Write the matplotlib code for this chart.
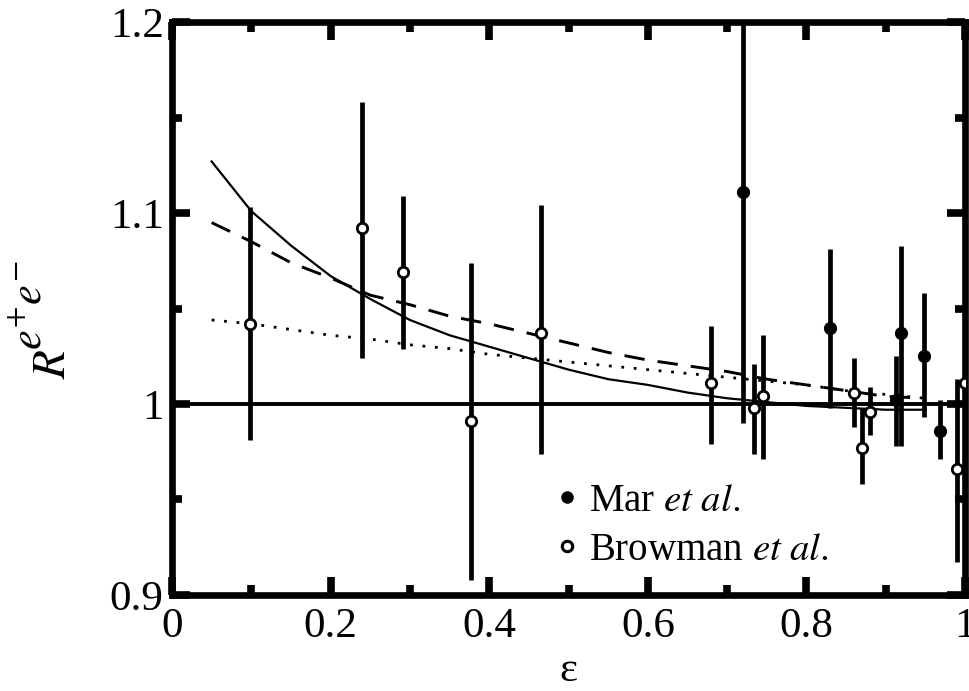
"""R^{e+e-} vs epsilon with Mar / Browman data and three model curves."""
import numpy as np
import matplotlib
matplotlib.use('Agg')
import matplotlib.pyplot as plt
from matplotlib.ticker import MultipleLocator

plt.rcParams['font.family'] = ['Liberation Serif', 'DejaVu Serif']
plt.rcParams['mathtext.fontset'] = 'stix'

# ---- data ----
mar_eps = [0.720, 0.830, 0.913, 0.919, 0.948, 0.968]
mar_R = [1.111, 1.040, 1.002, 1.037, 1.025, 0.986]
mar_lo = [0.990, 0.998, 0.978, 0.978, 0.993, 0.971]
mar_hi = [1.250, 1.081, 1.025, 1.083, 1.058, 1.002]

brow_eps = [0.098, 0.239, 0.291, 0.377, 0.465, 0.679, 0.734, 0.745,
            0.860, 0.870, 0.880, 0.990, 1.000]
brow_R = [1.042, 1.092, 1.069, 0.991, 1.037, 1.011, 0.998, 1.004,
          1.006, 0.977, 0.996, 0.966, 1.011]
brow_lo = [0.981, 1.024, 1.029, 0.908, 0.974, 0.979, 0.974, 0.971,
           0.988, 0.958, 0.984, 0.917, 0.950]
brow_hi = [1.103, 1.158, 1.109, 1.074, 1.104, 1.041, 1.021, 1.036,
           1.024, 0.998, 1.009, 1.013, 1.060]

curve_eps = [0.05, 0.10, 0.15, 0.20, 0.25, 0.30, 0.35, 0.40, 0.45, 0.50,
             0.55, 0.60, 0.65, 0.70, 0.75, 0.80, 0.85, 0.90, 0.95]
solid_R = [1.127, 1.101, 1.083, 1.067, 1.055, 1.044, 1.036, 1.030, 1.024, 1.018,
           1.013, 1.010, 1.006, 1.003, 1.001, 0.999, 0.998, 0.997, 0.997]
dashed_R = [1.095, 1.085, 1.074, 1.066, 1.057, 1.052, 1.046, 1.042, 1.037, 1.032,
            1.027, 1.023, 1.020, 1.017, 1.013, 1.010, 1.007, 1.004, 1.003]
dotted_R = [1.044, 1.042, 1.039, 1.036, 1.034, 1.031, 1.029, 1.026, 1.024, 1.022,
            1.020, 1.018, 1.016, 1.014, 1.012, 1.010, 1.007, 1.005, 1.003]

xticks = [0, 0.2, 0.4, 0.6, 0.8, 1.0]
xticklabels = ['0', '0.2', '0.4', '0.6', '0.8', '1']
yticks = [0.9, 1.0, 1.1, 1.2]
yticklabels = ['0.9', '1', '1.1', '1.2']

W, H = 969, 691
fig = plt.figure(figsize=(W / 100, H / 100), dpi=100)
ax = fig.add_axes([0.1775, 0.139, 0.8185, 0.829])

ax.axhline(1.0, color='black', lw=2.8, zorder=2)

ax.plot(curve_eps, solid_R, '-', color='black', lw=1.6, zorder=3)
ax.plot(curve_eps, dashed_R, color='black', lw=2.1, dashes=(7, 4.5), zorder=3)
ax.plot(curve_eps, dotted_R, color='black', lw=2.0, dashes=(1, 3.5), zorder=3)

# error bars (no caps)
b_lo = np.array(brow_R) - np.array(brow_lo)
b_hi = np.array(brow_hi) - np.array(brow_R)
ax.errorbar(brow_eps, brow_R, yerr=[b_lo, b_hi], fmt='o', color='black',
            ecolor='black', elinewidth=3.4, capsize=0, ms=7.5, mfc='white',
            mec='black', mew=2.0, zorder=4, label=r'Browman $\mathit{et\ al.}$')
m_lo = np.array(mar_R) - np.array(mar_lo)
m_hi = np.array(mar_hi) - np.array(mar_R)
ax.errorbar(mar_eps, mar_R, yerr=[m_lo, m_hi], fmt='o', color='black',
            ecolor='black', elinewidth=3.4, capsize=0, ms=8.5, mfc='black',
            mec='black', zorder=4, label=r'Mar $\mathit{et\ al.}$')

ax.set_xlim(0, 1)
ax.set_ylim(0.9, 1.2)
ax.set_xticks(xticks)
ax.set_xticklabels(xticklabels)
ax.set_yticks(yticks)
ax.set_yticklabels(yticklabels)
ax.xaxis.set_minor_locator(MultipleLocator(0.1))
ax.yaxis.set_minor_locator(MultipleLocator(0.05))
ax.tick_params(which='both', direction='in', top=True, right=True,
               labelsize=31, width=5.5)
ax.tick_params(axis='x', which='both', pad=9)
ax.tick_params(axis='y', which='both', pad=6)
ax.tick_params(which='major', length=13)
ax.tick_params(which='minor', length=7)
for sp in ax.spines.values():
    sp.set_linewidth(4.8)

ax.set_xlabel('ε', fontsize=31, labelpad=4)

# y label built from two pieces so the superscript can sit high and large
fig.text(54 / W, 1 - 364 / H, r'$R$', fontsize=34, rotation=90,
         ha='center', va='center')
fig.text(30 / W, 1 - 305 / H, r'$e^{+}e^{-}$', fontsize=32, rotation=90,
         ha='center', va='center')

# legend: Mar first, then Browman, markers only
handles, labels = ax.get_legend_handles_labels()
leg_h = [plt.Line2D([], [], ls='none', marker='o', ms=8, mfc='black', mec='black'),
         plt.Line2D([], [], ls='none', marker='o', ms=7.5, mfc='white', mec='black', mew=2.2)]
leg_l = [labels[1], labels[0]]
ax.legend(leg_h, leg_l, loc='lower left', bbox_to_anchor=(0.459, 0.012),
          frameon=False, fontsize=28, handlelength=0.6, handletextpad=0.25,
          labelspacing=0.3, borderpad=0.0)

plt.savefig('out.png', dpi=100)
